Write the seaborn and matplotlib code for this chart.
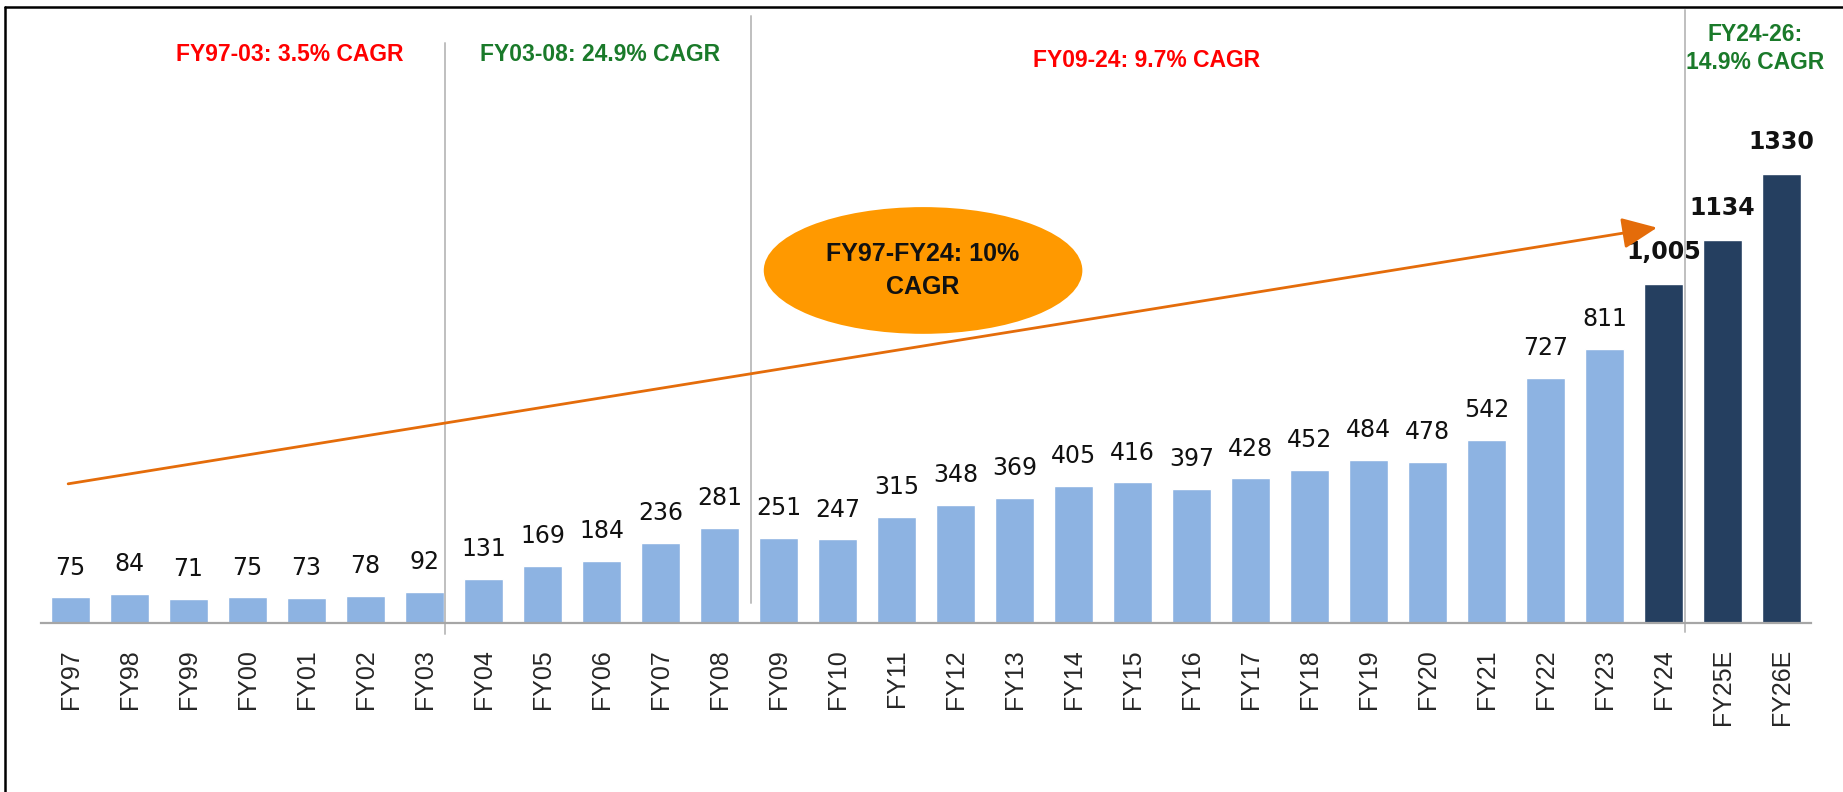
import numpy as np
import pandas as pd
import seaborn as sns
import matplotlib.pyplot as plt
from matplotlib.patches import Ellipse
from matplotlib.lines import Line2D

# ---- data ----
years = ["FY97", "FY98", "FY99", "FY00", "FY01", "FY02", "FY03", "FY04", "FY05",
         "FY06", "FY07", "FY08", "FY09", "FY10", "FY11", "FY12", "FY13", "FY14",
         "FY15", "FY16", "FY17", "FY18", "FY19", "FY20", "FY21", "FY22", "FY23",
         "FY24", "FY25E", "FY26E"]
sales = [75, 84, 71, 75, 73, 78, 92, 131, 169, 184, 236, 281, 251, 247, 315,
         348, 369, 405, 416, 397, 428, 452, 484, 478, 542, 727, 811, 1005, 1134, 1330]
highlight = ["FY24", "FY25E", "FY26E"]

value_labels = [str(v) for v in sales]
value_labels[years.index("FY24")] = "1,005"

df = pd.DataFrame({"year": years, "value": sales})
df["group"] = np.where(df["year"].isin(highlight), "recent", "past")

sns.set_style("white")
plt.rcParams["font.family"] = ["Liberation Sans", "DejaVu Sans"]

fig = plt.figure(figsize=(18.43, 7.92), dpi=100)
ax = fig.add_axes([0.02225, 0.21376, 0.9604, 0.7733])

sns.barplot(data=df, x="year", y="value", hue="group",
            palette={"past": "#8db3e2", "recent": "#253f60"},
            dodge=False, width=0.65, saturation=1, legend=False, ax=ax)

ax.set_xlim(-0.5, 29.5)
ax.set_ylim(0, 1817)

# value labels on top of bars
for i, (v, lab) in enumerate(zip(sales, value_labels)):
    bold = years[i] in highlight
    ax.annotate(lab, (i, v), xytext=(0, 18 if bold else 16.5),
                textcoords="offset points", ha="center", va="baseline",
                fontsize=17, fontweight="bold" if bold else "normal",
                family="DejaVu Sans", color="#111111")

ax.set_xticks(range(len(years)))
ax.set_xticklabels(years, rotation=90, fontsize=18)
ax.tick_params(axis="x", length=0, pad=19)
ax.set_yticks([])
ax.set_xlabel("")
ax.set_ylabel("")
for s in ["left", "top", "right"]:
    ax.spines[s].set_visible(False)
ax.spines["bottom"].set_color("#a6a6a6")
ax.spines["bottom"].set_linewidth(1.6)

# period separators
for xpos, y0, y1 in [(6.34, -33, 1720), (11.53, 58, 1800), (27.36, -28, 1818)]:
    ax.plot([xpos, xpos], [y0, y1], color="#bfbfbf", lw=1.4, clip_on=False, zorder=1)

# overall trend arrow
ax.annotate("", xy=(26.89, 1172), xytext=(-0.04, 412),
            arrowprops=dict(arrowstyle="-|>,head_length=0.9,head_width=0.4",
                            color="#e46c0a", lw=2, mutation_scale=24,
                            shrinkA=0, shrinkB=0))

ax.add_patch(Ellipse((14.45, 1045), 5.40, 376, facecolor="#ff9900",
                     edgecolor="none", zorder=3))
ax.text(14.45, 1045, "FY97-FY24: 10%\nCAGR", ha="center", va="center",
        fontsize=18, fontweight="bold", color="#111111", linespacing=1.45, zorder=4)

# period CAGR notes
ax.text(3.72, 1685, "FY97-03: 3.5% CAGR", ha="center", va="center",
        fontsize=16.5, fontweight="bold", color="#ff0000")
ax.text(8.97, 1685, "FY03-08: 24.9% CAGR", ha="center", va="center",
        fontsize=16.5, fontweight="bold", color="#1a7a2a")
ax.text(18.23, 1669, "FY09-24: 9.7% CAGR", ha="center", va="center",
        fontsize=16.5, fontweight="bold", color="#ff0000")
ax.text(28.55, 1703, "FY24-26:\n14.9% CAGR", ha="center", va="center",
        fontsize=16.5, fontweight="bold", color="#1a7a2a", linespacing=1.3,
        clip_on=False)

# frame on top and left like the screenshot
fig.add_artist(Line2D([0.0027, 1], [0.9912, 0.9912], color="black", lw=1.8))
fig.add_artist(Line2D([0.0027, 0.0027], [0, 0.9912], color="black", lw=1.8))

fig.savefig("out.png", dpi=100)
